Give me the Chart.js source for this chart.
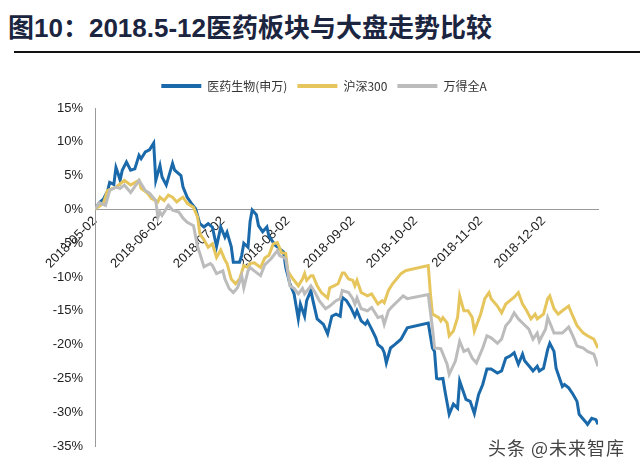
<!DOCTYPE html>
<html>
<head>
<meta charset="utf-8">
<script src="https://cdn.jsdelivr.net/npm/chart.js@4"></script>
<style>
  body { margin: 0; background: #fff; }
  #wrap { position: relative; width: 640px; height: 473px; overflow: hidden; }
  #title {
    position: absolute; left: 8px; top: 12px;
    font: bold 26px "Liberation Sans", "Noto Sans CJK SC", sans-serif;
    color: #1b2540; white-space: nowrap; line-height: 32px;
  }
  #rule { position: absolute; left: 14px; top: 51px; width: 626px; height: 2px; background: #111; }
  #mark {
    position: absolute; right: 15px; top: 434px;
    font: 18px "Noto Sans CJK SC", sans-serif; color: #444; letter-spacing: 1px;
  }
  canvas { position: absolute; left: 0; top: 0; }
</style>
</head>
<body>
<div id="wrap">
  <div id="title">图10：2018.5-12医药板块与大盘走势比较</div>
  <div id="rule"></div>
  <canvas id="c" width="640" height="473"></canvas>
  <div id="mark">头条 @未来智库</div>
</div>
<script>
// x values are calendar days counted from 2018-05-02
const tickDays = [0, 31, 61, 92, 123, 153, 184, 214];
const tickLabels = ["2018-05-02", "2018-06-02", "2018-07-02", "2018-08-02",
  "2018-09-02", "2018-10-02", "2018-11-02", "2018-12-02"];
const yTicks = [15, 10, 5, 0, -5, -10, -15, -20, -25, -30, -35];

const seriesNames = ["医药生物(申万)", "沪深300", "万得全A"];

// 医药生物(申万)
const bioDays = [0, 2, 4, 6, 7, 9, 10, 11, 12, 13, 15, 17, 19, 21, 22, 24, 26, 28, 29, 31,
  32, 34, 37, 38, 41, 42, 44, 46, 48, 50, 52, 54, 56, 58, 60, 62, 63, 65, 66, 69,
  70, 71, 73, 74, 75, 77, 78, 80, 82, 83, 86, 88, 90, 91, 93, 95, 97, 98, 100, 101,
  103, 104, 106, 109, 111, 113, 115, 117, 118, 120, 122, 124, 125, 127, 129, 130, 132, 134, 135, 137,
  138, 139, 141, 143, 146, 149, 159, 161, 162, 163, 164, 166, 167, 169, 171, 173, 174, 176, 177, 179,
  181, 183, 185, 187, 189, 192, 194, 196, 198, 200, 202, 204, 205, 208, 209, 211, 212, 214, 216, 217,
  219, 220, 223, 224, 226, 228, 230, 231, 234, 235, 237, 239, 240];
const bioVals = [0, 1, 1.5, 2.7, 4, 3.7, 6.2, 5.3, 4.3, 5.8, 7, 5.8, 6, 8, 7.5, 8.5, 8.8, 9.8, 4.3, 6.5,
  4.8, 3.6, 6.8, 5.8, 5, 3.3, 1.8, 0.9, 0.1, -2.1, -2.6, -2.1, -2.6, -5.5, -2.6, -4.1, -3.4, -5.5, -7.8, -7.8,
  -6.8, -5, -5.6, -1.8, -0.1, -0.8, -2.4, -3.3, -2.6, -4, -5.3, -5.8, -6.3, -8.6, -11, -12.5, -16.2, -14, -15.8, -13.5,
  -12, -13.5, -16.2, -17, -18.4, -15.8, -15.5, -15.8, -13, -13.5, -14.5, -15.8, -15, -16.5, -17, -16.5, -17.7, -19, -20, -20.5,
  -21.2, -22.7, -20.5, -20, -19.2, -17.5, -16.8, -20.5, -21, -25, -25.1, -25, -26.9, -30.3, -28.8, -29.4, -25.4, -27.2, -28.1, -28.4,
  -30.2, -27.4, -25.9, -23.6, -23.6, -24.2, -23.9, -22, -21.7, -21.2, -22.9, -21.4, -22.4, -23.5, -23.9, -23.2, -23.9, -23.5, -20.7, -19.8,
  -21, -23.5, -26.2, -25.9, -26.4, -27.3, -28.4, -30.3, -31.4, -31.8, -30.9, -31.1, -31.8];

// 沪深300
const hsDays = [0, 4, 6, 10, 14, 17, 21, 22, 25, 27, 30, 31, 33, 35, 37, 39, 41, 42, 44, 47,
  49, 50, 52, 54, 56, 58, 60, 62, 63, 65, 67, 69, 71, 73, 74, 76, 79, 81, 83, 85,
  87, 89, 91, 92, 94, 97, 99, 100, 101, 103, 104, 106, 108, 111, 112, 114, 116, 118, 119, 121,
  123, 124, 125, 127, 130, 132, 135, 137, 138, 140, 142, 146, 148, 149, 159, 160, 161, 164, 165, 166,
  168, 169, 171, 173, 174, 176, 178, 180, 181, 184, 186, 188, 189, 192, 194, 196, 198, 200, 202, 204,
  206, 208, 210, 211, 214, 216, 217, 219, 221, 223, 226, 228, 230, 233, 235, 238, 240];
const hsVals = [0, 0.9, 2.8, 3.3, 4.3, 3.6, 4.3, 3.1, 2.4, 1.6, 1.1, 1.8, 1.3, 2.1, 1.8, 1.1, 1.6, 1.8, 0.9, 0.3,
  -1.2, -3.6, -4.5, -5.6, -5.1, -7.1, -6, -7.5, -8, -10.3, -11, -10.3, -8.3, -8.6, -8, -7.9, -8.6, -7.2, -6.8, -5.1,
  -4.9, -6.4, -6.5, -9.1, -10.1, -11.3, -10.3, -9.5, -10.5, -9.8, -9.8, -11.3, -12.3, -13.1, -11.6, -11.3, -11, -9.4, -9.4, -10.3,
  -10.5, -11.3, -10.5, -12.3, -12.8, -12.5, -14, -13.5, -13.8, -12, -11, -9.5, -9.1, -9, -8.3, -12.3, -15.5, -16, -16.5, -16,
  -16.8, -18.7, -18, -16, -12.8, -15, -15, -16, -18, -15.5, -13.2, -12.3, -13.2, -14.3, -15.3, -14, -13.5, -13, -12.3, -14,
  -15, -16.2, -15.5, -16.2, -15.5, -13.2, -12.8, -14.7, -15.5, -15, -14.3, -15.8, -17.2, -18.3, -18.7, -19.2, -20.5];

// 万得全A
const wdDays = [0, 2, 5, 7, 10, 12, 14, 17, 20, 21, 24, 26, 29, 30, 31, 32, 35, 37, 40, 42,
  44, 47, 49, 50, 52, 55, 56, 58, 61, 62, 64, 66, 68, 70, 71, 73, 74, 76, 79, 81,
  84, 87, 88, 91, 93, 95, 97, 99, 100, 103, 105, 107, 110, 112, 115, 117, 118, 121, 123, 124,
  125, 127, 130, 132, 135, 137, 138, 140, 142, 146, 147, 149, 159, 161, 162, 165, 168, 169, 172, 174,
  176, 178, 180, 182, 185, 187, 189, 192, 194, 196, 198, 200, 202, 204, 207, 209, 211, 212, 215, 216,
  218, 219, 223, 226, 228, 230, 233, 235, 238, 240];
const wdVals = [0, 1, 0.6, 2.8, 3.3, 3.1, 3.6, 2.5, 3.8, 4.3, 2.8, 2.4, 1.3, -1.2, -0.4, -0.9, 0.6, -0.1, -0.4, -1.3,
  -1.9, -2.4, -5.6, -6.5, -8.5, -8, -8.3, -9.5, -9.1, -10.3, -11.7, -12.3, -11.6, -9.8, -11.6, -9.1, -8.6, -9.1, -9.8, -8.2,
  -7.3, -6.1, -6.8, -7.3, -11.3, -11.7, -12.5, -11.7, -12.5, -11.3, -12.3, -13.5, -14.7, -14.3, -13.5, -13.2, -12, -12.3, -13.2, -14,
  -13.1, -14.7, -15, -14.5, -16, -15.8, -17, -15, -14.3, -13.1, -12.8, -13.2, -12.6, -17.5, -20.5, -20.6, -22.9, -24.4, -22.4, -19.5,
  -21, -20.7, -22, -22.7, -20.5, -18.7, -19, -19.8, -19.2, -17.2, -16.5, -15.3, -16.2, -16.8, -17.7, -19.2, -18.3, -19.5, -17.7, -16,
  -17.5, -18.3, -18.3, -17.4, -18.7, -20.2, -20.5, -21, -21.4, -23.2];

const colors = ["#1a69aa", "#e6c65c", "#bcbcbc"];

const toPoints = (days, vals) => days.map((d, i) => ({ x: d, y: vals[i] }));
const allDays = [bioDays, hsDays, wdDays];
const allVals = [bioVals, hsVals, wdVals];

const datasets = seriesNames.map((name, i) => ({
  label: name,
  data: toPoints(allDays[i], allVals[i]),
  borderColor: colors[i],
  backgroundColor: colors[i],
  borderWidth: 3,
  pointRadius: 0,
  tension: 0,
  order: 3 - i
}));

const tickFont = { family: "'Liberation Sans', sans-serif", size: 13 };

// a bit more room under the legend, and don't clip the y labels to the axis box
const layoutTweaks = {
  id: "layoutTweaks",
  beforeInit(chart) {
    const fit = chart.legend.fit;
    chart.legend.fit = function () {
      fit.call(this);
      this.height += 6;
    };
  },
  afterLayout(chart) {
    chart.scales.y.left = 0;
  }
};

new Chart(document.getElementById("c"), {
  type: "line",
  data: { datasets },
  plugins: [layoutTweaks],
  options: {
    responsive: false,
    animation: false,
    layout: { padding: { left: 50, right: 42, top: 70, bottom: 27 } },
    plugins: {
      tooltip: { enabled: false },
      legend: {
        position: "top",
        labels: {
          boxWidth: 40,
          boxHeight: 4,
          padding: 10,
          color: "#333",
          font: { family: "'Noto Sans CJK SC', sans-serif", size: 12 },
          generateLabels: (chart) =>
            Chart.defaults.plugins.legend.labels.generateLabels(chart)
              .sort((a, b) => a.datasetIndex - b.datasetIndex)
              .map(l => ({ ...l, lineWidth: 0 }))
        }
      }
    },
    scales: {
      x: {
        type: "linear",
        min: 0,
        max: 240,
        position: { y: 0 },
        grid: { display: false, drawTicks: false },
        border: { color: "#9a9a9a", width: 1 },
        afterBuildTicks: (axis) => { axis.ticks = tickDays.map(v => ({ value: v })); },
        ticks: {
          autoSkip: false,
          minRotation: 45,
          maxRotation: 45,
          padding: 4,
          color: "#222",
          font: tickFont,
          callback: (v, i) => tickLabels[i]
        }
      },
      y: {
        min: -35,
        max: 15,
        grid: { display: false, drawTicks: false },
        border: { color: "#9a9a9a", width: 1 },
        afterBuildTicks: (axis) => { axis.ticks = yTicks.map(v => ({ value: v })); },
        afterFit: (axis) => { axis.width = 45; },
        ticks: {
          padding: 12,
          color: "#222",
          font: tickFont,
          callback: (v) => v + "%"
        }
      }
    }
  }
});
</script>
</body>
</html>
